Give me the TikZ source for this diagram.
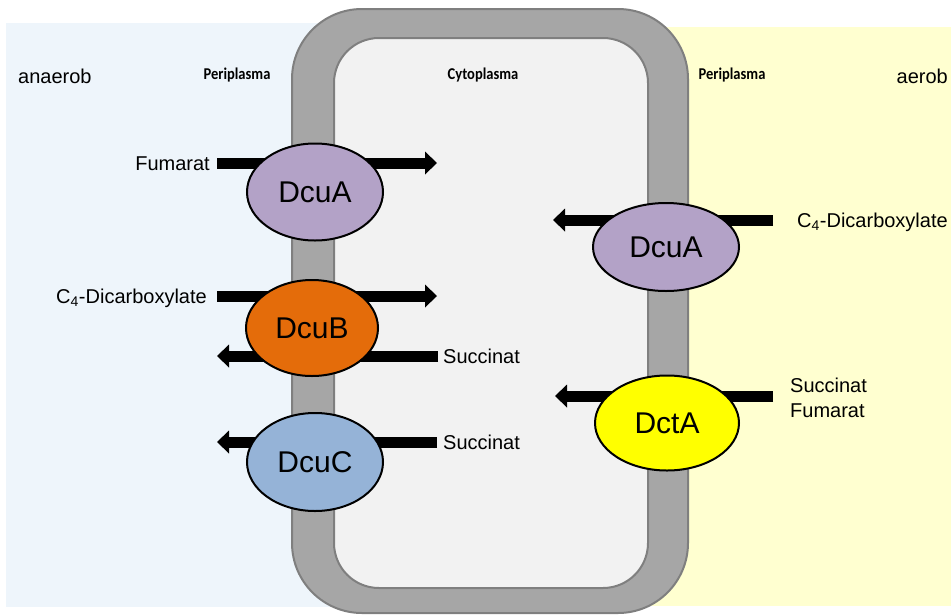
\documentclass[tikz,border=0pt]{standalone}
\usepackage{fontspec}
\setmainfont{Liberation Sans}
\newfontfamily\calib[FakeStretch=0.88]{Carlito}
\usetikzlibrary{shapes.geometric,arrows.meta}
\definecolor{anaerobbg}{RGB}{238,245,251}
\definecolor{aerobbg}{RGB}{255,255,208}
\definecolor{cytobg}{RGB}{242,242,242}
\definecolor{membfill}{RGB}{166,166,166}
\definecolor{membline}{RGB}{127,127,127}
\definecolor{dcuacol}{RGB}{179,162,199}
\definecolor{dcubcol}{RGB}{228,108,10}
\definecolor{dcuccol}{RGB}{149,179,215}
\definecolor{dctacol}{RGB}{255,255,0}
\tikzset{
  prot/.style={ellipse, draw=black, line width=2pt, inner sep=0pt,
    font=\fontsize{30}{35}\selectfont},
  flow/.style={line width=11pt, draw=black,
    -{Triangle[width=23pt,length=12pt,line width=0pt]}},
  lbl/.style={inner sep=0pt, font=\fontsize{20}{24}\selectfont},
  zone/.style={inner sep=0pt, font=\calib\bfseries\fontsize{16.5}{19}\selectfont},
  envlbl/.style={inner sep=0pt, font=\fontsize{20}{24}\selectfont},
}
\begin{document}
\begin{tikzpicture}[x=1pt,y=-1pt]
\useasboundingbox (0,0) rectangle (951,614);
\fill[white] (0,0) rectangle (951,614);
% environments
\fill[anaerobbg] (6,23) rectangle (480,607);
\fill[aerobbg] (480,27) rectangle (951,606);
% membrane and cytoplasm
\filldraw[fill=membfill, draw=membline, line width=2pt, rounded corners=70pt] (292,9) rectangle (688,613);
\filldraw[fill=cytobg, draw=membline, line width=2pt, rounded corners=45pt] (334,38) rectangle (648,588);
% region labels
\node[envlbl, anchor=base west] (anaer) at (18,83) {anaerob};
\node[envlbl, anchor=base east] (aer) at (948,83) {aerob};
\node[zone, anchor=base] (periL) at (237,79) {Periplasma};
\node[zone, anchor=base] (cyto) at (483,79) {Cytoplasma};
\node[zone, anchor=base] (periR) at (732,79) {Periplasma};
% substrate labels
\node[lbl, anchor=base east] (fum) at (210,170) {Fumarat};
\node[lbl, anchor=base east] (dicL) at (207,303) {C\textsubscript{4}-Dicarboxylate};
\node[lbl, anchor=base west] (sucB) at (443,363) {Succinat};
\node[lbl, anchor=base west] (sucC) at (443,449) {Succinat};
\node[lbl, anchor=base west] (dicR) at (797,227) {C\textsubscript{4}-Dicarboxylate};
\node[lbl, anchor=base west] (sucD) at (790,392) {Succinat};
\node[lbl, anchor=base west] (fumD) at (790,417) {Fumarat};
% arrow end points
\coordinate (a1s) at (217,163); \coordinate (a1e) at (437,163);
\coordinate (a2s) at (217,296); \coordinate (a2e) at (437,296);
\coordinate (a3s) at (438,356); \coordinate (a3e) at (217,356);
\coordinate (a4s) at (437,442); \coordinate (a4e) at (217,442);
\coordinate (a5s) at (773,220); \coordinate (a5e) at (553,220);
\coordinate (a6s) at (773,396); \coordinate (a6e) at (555,396);
\draw[flow] (a1s) -- (a1e);
\draw[flow] (a2s) -- (a2e);
\draw[flow] (a3s) -- (a3e);
\draw[flow] (a4s) -- (a4e);
\draw[flow] (a5s) -- (a5e);
\draw[flow] (a6s) -- (a6e);
% transporters
\node[prot, fill=dcuacol, minimum width=136pt, minimum height=97pt] (dcuaL) at (315,192) {DcuA};
\node[prot, fill=dcubcol, minimum width=132pt, minimum height=96pt] (dcub) at (312,328) {DcuB};
\node[prot, fill=dcuccol, minimum width=136pt, minimum height=98pt] (dcuc) at (315,462) {DcuC};
\node[prot, fill=dcuacol, minimum width=146pt, minimum height=88pt] (dcuaR) at (666,247) {DcuA};
\node[prot, fill=dctacol, minimum width=144pt, minimum height=95pt] (dcta) at (667,423) {DctA};
\end{tikzpicture}
\end{document}
